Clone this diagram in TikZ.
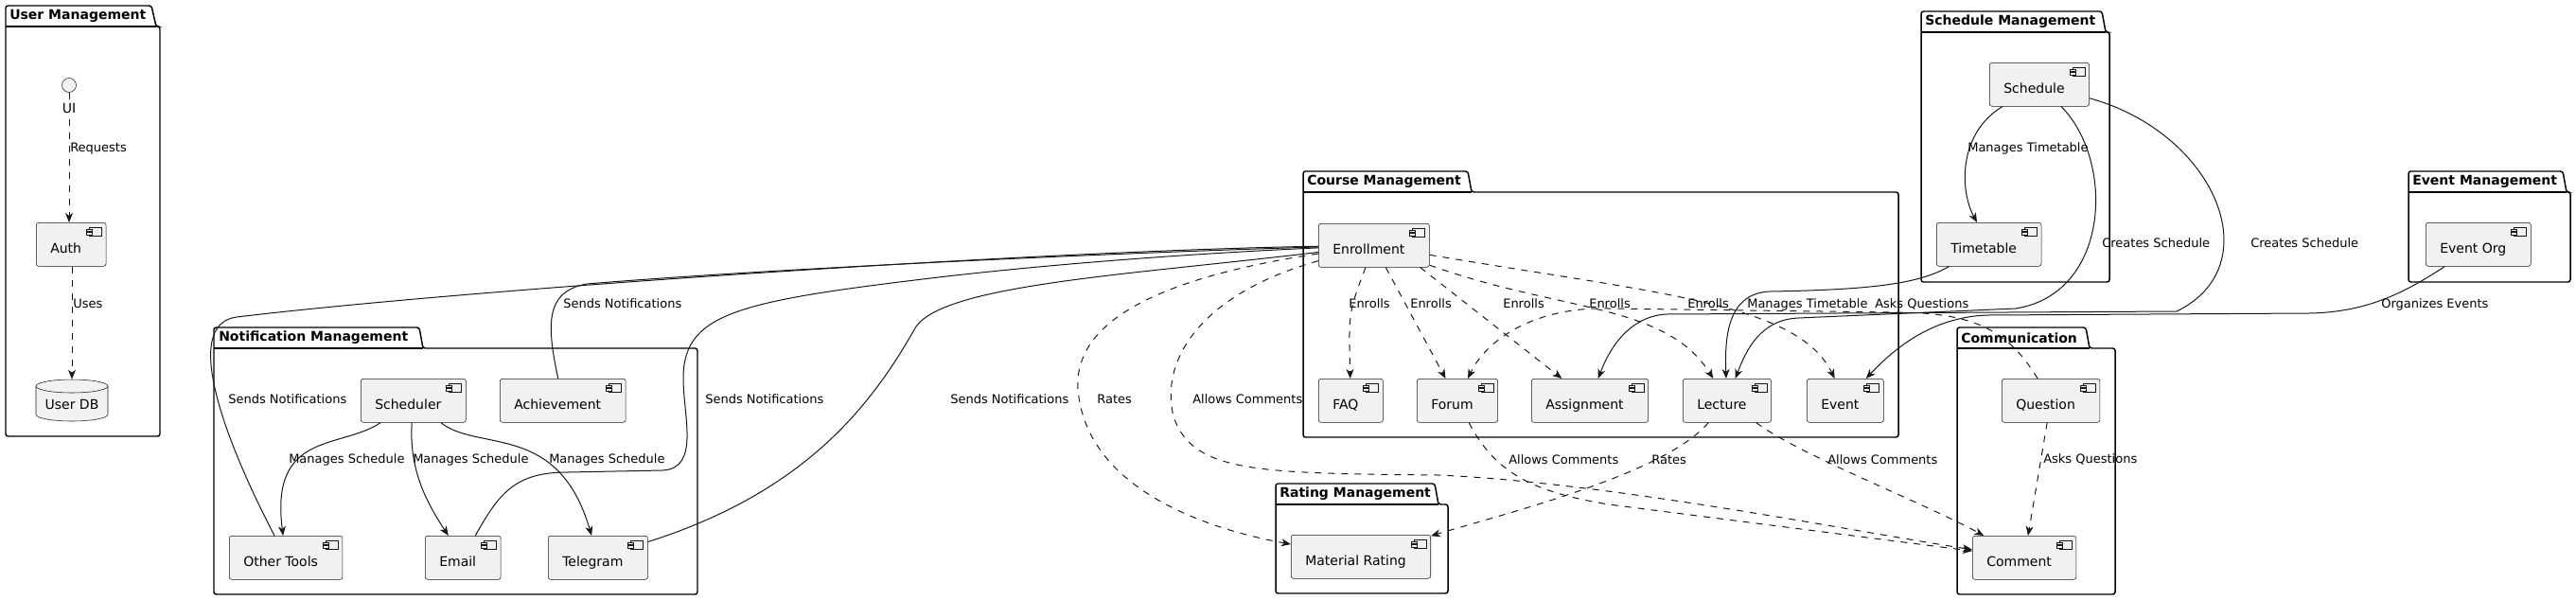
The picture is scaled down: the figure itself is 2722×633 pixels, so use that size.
\documentclass[tikz,border=0pt]{standalone}
\usepackage{fontspec}
\setmainfont{DejaVu Sans}
\usetikzlibrary{arrows.meta,calc}
\definecolor{compfill}{HTML}{F1F1F1}
\definecolor{umlline}{HTML}{181818}
\tikzset{
  comp/.style={draw=umlline, line width=0.4pt, fill=compfill, rounded corners=1.9pt, anchor=north west,
    minimum height=34.5pt, inner xsep=11.25pt, text height=14.5pt, text depth=0pt,
    font=\fontsize{10.5}{12}\selectfont, execute at end node={\hspace*{8.25pt}}},
  ifc/.style={draw=umlline, line width=0.4pt, fill=compfill, circle, inner sep=0pt, minimum size=11.25pt},
  compicon/.style={draw=umlline, line width=0.35pt, fill=compfill},
  pkg/.style={draw=black, line width=1.1pt, rounded corners=1.9pt},
  pkgtitle/.style={anchor=west, inner sep=0pt, font=\fontsize{10.5}{12}\selectfont\bfseries},
  lbl/.style={anchor=west, inner sep=0pt, text height=7.3pt, text depth=2pt, font=\fontsize{9.75}{11}\selectfont},
  link/.style={draw=umlline, line width=0.75pt},
  arr/.style={link, -{Stealth[length=7.5pt,width=6pt,inset=2.2pt]}},
  dep/.style={arr, dash pattern=on 5.25pt off 5.25pt},
}
\begin{document}
\begin{tikzpicture}[x=0.75pt,y=0.75pt,yscale=-1,xscale=1]
\useasboundingbox (0,0) rectangle (2722,633);

%Package: User Management
\draw[pkg] (6,461) -- (6,6) -- (160,6) -- (165,28) -- (169,28) -- (169,461) -- cycle;
\draw[pkg, rounded corners=0pt] (6,28) -- (165,28);
\node[pkgtitle] (tuser) at (10,17) {User Management};
%Package: Notification Management
\draw[pkg] (226,628) -- (226,346) -- (443,346) -- (447,368) -- (737,368) -- (737,628) -- cycle;
\draw[pkg, rounded corners=0pt] (226,368) -- (447,368);
\node[pkgtitle] (tnotif) at (231,357) {Notification Management};
%Package: Course Management
\draw[pkg] (1377,462) -- (1377,181) -- (1551,181) -- (1555,203) -- (2006,203) -- (2006,462) -- cycle;
\draw[pkg, rounded corners=0pt] (1377,203) -- (1555,203);
\node[pkgtitle] (tcourse) at (1381,192) {Course Management};
%Package: Rating Management
\draw[pkg] (1348,627) -- (1348,511) -- (1516,511) -- (1520,533) -- (1530,533) -- (1530,627) -- cycle;
\draw[pkg, rounded corners=0pt] (1348,533) -- (1520,533);
\node[pkgtitle] (trating) at (1352,522) {Rating Management};
%Package: Schedule Management
\draw[pkg] (2030,298) -- (2030,12) -- (2221,12) -- (2225,34) -- (2229,34) -- (2229,298) -- cycle;
\draw[pkg, rounded corners=0pt] (2030,34) -- (2225,34);
\node[pkgtitle] (tsched) at (2034,23) {Schedule Management};
%Package: Event Management
\draw[pkg] (2545,298) -- (2545,181) -- (2708,181) -- (2712,203) -- (2716,203) -- (2716,298) -- cycle;
\draw[pkg, rounded corners=0pt] (2545,203) -- (2712,203);
\node[pkgtitle] (tevent) at (2549,192) {Event Management};
%Package: Communication
\draw[pkg] (2068,628) -- (2068,346) -- (2204,346) -- (2208,368) -- (2235,368) -- (2235,628) -- cycle;
\draw[pkg, rounded corners=0pt] (2068,368) -- (2208,368);
\node[pkgtitle] (tcomm) at (2072,357) {Communication};

%Shape: Database
\draw[compicon, line width=0.4pt] (38,408) -- (38,438) arc[start angle=180, end angle=0, x radius=38, y radius=7]
  -- (114,408) arc[start angle=0, end angle=-180, x radius=38, y radius=7] -- cycle;
\draw[compicon, line width=0.4pt, fill=none] (38,408) arc[start angle=180, end angle=0, x radius=38, y radius=7];
\node[anchor=center, minimum width=57pt, minimum height=33pt, text height=14.5pt, text depth=0pt,
  font=\fontsize{10.5}{12}\selectfont] (udb) at (76,423) {User DB};

% Components
\node[ifc] (ui) at (73,90) {};
\node[comp] (auth) at (38,235) {Auth};
\node[comp] (sched) at (381,400) {Scheduler};
\node[comp] (achv) at (528,400) {Achievement};
\node[comp] (other) at (242,566) {Other Tools};
\node[comp] (email) at (449,566) {Email};
\node[comp] (tele) at (579,566) {Telegram};
\node[comp] (enr) at (1393,236) {Enrollment};
\node[comp] (faq) at (1393,400) {FAQ};
\node[comp] (forum) at (1497,400) {Forum};
\node[comp] (assign) at (1618,400) {Assignment};
\node[comp] (lect) at (1778,400) {Lecture};
\node[comp] (event) at (1909,400) {Event};
\node[comp] (rating) at (1364,565) {Material Rating};
\node[comp] (schedule) at (2102,66) {Schedule};
\node[comp] (ttable) at (2046,235) {Timetable};
\node[comp] (eorg) at (2563,235) {Event Org};
\node[comp] (quest) at (2115,400) {Question};
\node[comp] (comment) at (2084,566) {Comment};

\foreach \c in {auth,sched,achv,other,email,tele,enr,faq,forum,assign,lect,event,rating,schedule,ttable,eorg,quest,comment}{
  \draw[compicon] ($(\c.north east)+(-18,5)$) rectangle ++(13,9);
  \draw[compicon] ($(\c.north east)+(-21,7)$) rectangle ++(6,2.5);
  \draw[compicon] ($(\c.north east)+(-21,10.5)$) rectangle ++(6,2.5);
}

%Links: User Management
\draw[dep] (ui) -- (ui |- auth.north);
\draw[dep] (auth.south -| udb) -- (udb);
\node[anchor=center, fill=white, inner sep=1pt, font=\fontsize{10.5}{12}\selectfont] (uitxt) at (73,114) {UI};

%Links: Notification Management
\draw[arr] (sched) .. controls (360,475) and (285,455) .. (other);
\draw[arr] (sched) .. controls (432,495) and (450,530) .. (email);
\draw[arr] (sched) .. controls (505,478) and (590,445) .. (tele);
\draw[link] (other) .. controls (240,470) and (190,343) .. (250,335) .. controls (500,305) and (1100,265) .. (enr);
\draw[link] (achv) .. controls (578,345) and (575,308) .. (620,300) .. controls (800,285) and (1150,268) .. (enr);
\draw[link] (email) .. controls (528,520) and (545,499) .. (600,499) -- (700,497) .. controls (740,495) and (722,440) .. (722,400)
  .. controls (722,330) and (780,318) .. (1000,292) .. controls (1150,275) and (1300,266) .. (enr);
\draw[link] (tele) .. controls (850,520) and (920,430) .. (968,345) .. controls (1000,300) and (1200,290) .. (enr);

%Links: Course Management
\draw[dep] (enr) .. controls (1425,330) .. (faq);
\draw[dep] (enr) -- (forum);
\draw[dep] ([xshift=-7.5pt]enr.south east) -- (assign);
\draw[dep] (enr) .. controls (1650,330) and (1760,320) .. (lect);
\draw[dep] (enr) .. controls (1750,310) and (1900,320) .. (event);
\draw[dep] (enr) .. controls (1180,300) and (1130,360) .. (1140,420) .. controls (1155,520) and (1280,560) .. (rating);
\draw[dep] (enr) .. controls (1270,310) and (1225,380) .. (1240,440) .. controls (1260,500) and (1330,500) .. (1520,502)
  .. controls (1700,510) and (1950,560) .. (comment);
\draw[dep] (forum) .. controls (1580,500) and (1620,520) .. (1700,533) -- (comment);
\draw[dep] (lect) .. controls (1760,500) and (1600,540) .. (rating);
\draw[dep] (lect) .. controls (1900,480) and (2030,530) .. (comment);
\draw[dep] (quest) -- (comment);
\draw[dep] (quest) .. controls (2120,345) and (2080,330) .. (2000,330) -- (1700,326) .. controls (1620,324) and (1570,360) .. (forum);

%Links: Schedule and Event Management
\draw[arr] (schedule) .. controls (2070,140) and (2070,200) .. (ttable);
\draw[arr] (ttable) .. controls (2030,298) and (1990,306) .. (1870,308) .. controls (1828,310) and (1822,350) .. (lect);
\draw[arr] (schedule) .. controls (2235,170) and (2230,310) .. (2130,326) -- (1900,336) .. controls (1860,338) and (1845,370) .. (lect);
\draw[arr] (schedule) .. controls (2340,140) and (2400,280) .. (2300,329) -- (1760,332) .. controls (1720,335) and (1700,370) .. (assign);
\draw[arr] (eorg) .. controls (2540,310) and (2500,330) .. (2440,331) -- (2100,333) .. controls (2040,335) and (2000,370) .. (event);

% Text Node
\node[lbl] (lreq) at (74,157) {Requests};
\node[lbl] (luses) at (77,322) {Uses};
\node[lbl] (lsn1) at (241,423) {Sends Notifications};
\node[lbl] (lsn2) at (595,322) {Sends Notifications};
\node[lbl] (lsn3) at (745,423) {Sends Notifications};
\node[lbl] (lsn4) at (1004,423) {Sends Notifications};
\node[lbl] (lms1) at (305,486) {Manages Schedule};
\node[lbl] (lms2) at (436,486) {Manages Schedule};
\node[lbl] (lms3) at (580,486) {Manages Schedule};
\node[lbl] (len1) at (1425,322) {Enrolls};
\node[lbl] (len2) at (1490,322) {Enrolls};
\node[lbl] (len3) at (1588,322) {Enrolls};
\node[lbl] (len4) at (1679,322) {Enrolls};
\node[lbl] (len5) at (1783,322) {Enrolls};
\node[lbl] (lrt1) at (1159,423) {Rates};
\node[lbl] (lac1) at (1260,423) {Allows Comments};
\node[lbl] (lac2) at (1594,487) {Allows Comments};
\node[lbl] (lrt2) at (1745,487) {Rates};
\node[lbl] (lac3) at (1931,487) {Allows Comments};
\node[lbl] (lmt1) at (1846,322) {Manages Timetable};
\node[lbl] (laq1) at (1981,322) {Asks Questions};
\node[lbl] (lmt2) at (2079,157) {Manages Timetable};
\node[lbl] (lcs1) at (2221,258) {Creates Schedule};
\node[lbl] (lcs2) at (2378,258) {Creates Schedule};
\node[lbl] (loe) at (2516,322) {Organizes Events};
\node[lbl] (laq2) at (2159,486) {Asks Questions};

\end{tikzpicture}
\end{document}
